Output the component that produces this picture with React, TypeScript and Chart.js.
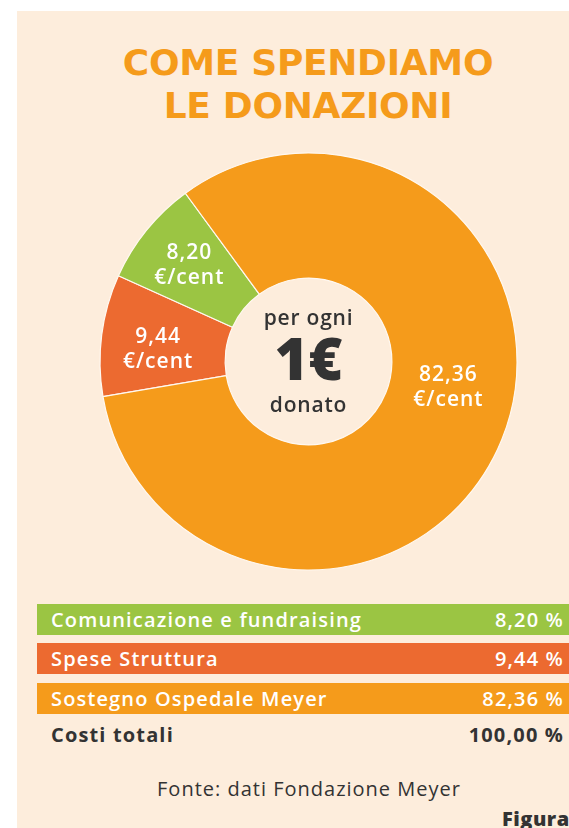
import React, { useEffect, useRef } from "react";
import { Chart, registerables } from "chart.js";
Chart.register(...registerables);

const titleLines = ["COME SPENDIAMO", "LE DONAZIONI"];
const categories = ["Comunicazione e fundraising", "Spese Struttura", "Sostegno Ospedale Meyer"];
const values = [8.2, 9.44, 82.36];
const valueLabels = ["8,20", "9,44", "82,36"];
const percentLabels = ["8,20 %", "9,44 %", "82,36 %"];
const colors = ["#9bc543", "#ec6a30", "#f59b1b"];
const totalLabel = "Costi totali";
const totalValue = "100,00 %";
const unitLabel = "€/cent";
const centerLines = ["per ogni", "1€", "donato"];
const sourceText = "Fonte: dati Fondazione Meyer";
const figureText = "Figura";

// clockwise drawing order of the slices (red, green, orange)
const drawOrder = [1, 0, 2];
// label placement within each slice (fraction of angle span, fraction of ring depth)
const labelAngleFrac = [0.5, 0.43, 0.46];
const labelRadiusFrac = [0.56, 0.54, 0.47];

const BG = "#fdeddc";
const DARK = "#333333";
const FONT = "'Open Sans', 'Noto Sans', sans-serif";

export default function App() {
  const ref = useRef<HTMLCanvasElement | null>(null);
  useEffect(() => {
    if (!ref.current) return;
    const labelPlugin = {
      id: "labels",
      afterDatasetsDraw(chart: any) {
        const ctx = chart.ctx;
        const meta = chart.getDatasetMeta(0);
        ctx.save();
        ctx.textAlign = "center";
        ctx.textBaseline = "middle";
        let cx = 0, cy = 0;
        meta.data.forEach((arc: any, i: number) => {
          const p = arc.getProps(["x", "y", "startAngle", "endAngle", "innerRadius", "outerRadius"], true);
          cx = p.x; cy = p.y;
          const cat = drawOrder[i];
          const a = p.startAngle + (p.endAngle - p.startAngle) * labelAngleFrac[cat];
          const r = p.innerRadius + (p.outerRadius - p.innerRadius) * labelRadiusFrac[cat];
          const x = p.x + Math.cos(a) * r;
          const y = p.y + Math.sin(a) * r;
          ctx.fillStyle = "#ffffff";
          ctx.font = `600 21px ${FONT}`;
          ctx.letterSpacing = "1px";
          ctx.fillText(valueLabels[cat], x, y - 12);
          ctx.fillText(unitLabel, x, y + 13);
        });
        ctx.fillStyle = DARK;
        ctx.font = `600 21px ${FONT}`;
        ctx.letterSpacing = "0.8px";
        ctx.fillText(centerLines[0], cx, cy - 42);
        ctx.font = `800 58px ${FONT}`;
        ctx.letterSpacing = "0px";
        ctx.fillText(centerLines[1], cx, cy + 2);
        ctx.font = `600 21px ${FONT}`;
        ctx.letterSpacing = "0.8px";
        ctx.fillText(centerLines[2], cx, cy + 45);
        ctx.restore();
      },
    };
    const chart = new Chart(ref.current, {
      type: "doughnut",
      data: {
        labels: drawOrder.map((i) => categories[i]),
        datasets: [
          {
            data: drawOrder.map((i) => values[i]),
            backgroundColor: drawOrder.map((i) => colors[i]),
            borderColor: "#fff8f0",
            borderWidth: 1.2,
          },
        ],
      },
      options: {
        animation: false,
        responsive: false,
        maintainAspectRatio: false,
        rotation: -99.7,
        radius: 208.5,
        cutout: "40%",
        layout: { padding: 0 },
        plugins: { legend: { display: false }, tooltip: { enabled: false } },
      },
      plugins: [labelPlugin],
    });
    return () => chart.destroy();
  }, []);

  const rowTops = [604, 643, 683];
  return (
    <div style={{ position: "absolute", left: 0, top: 0, width: 569, height: 828, background: "#ffffff", overflow: "hidden" }}>
      <div style={{ position: "absolute", left: 17, top: 11, width: 600, height: 830, background: BG }} />
      {titleLines.map((t, i) => (
        <div
          key={t}
          style={{
            position: "absolute",
            left: 8,
            width: 600,
            top: 44 + i * 43,
            textAlign: "center",
            font: "bold 36px 'DejaVu Sans', sans-serif",
            letterSpacing: "-0.3px",
            lineHeight: "38px",
            color: colors[2],
            whiteSpace: "nowrap",
          }}
        >
          {t}
        </div>
      ))}
      <canvas
        ref={ref}
        width={441}
        height={441}
        style={{ position: "absolute", left: 88, top: 141, width: 441, height: 441 }}
      />
      {categories.map((c, i) => (
        <div
          key={c}
          style={{
            position: "absolute",
            left: 37,
            top: rowTops[i],
            width: 532,
            height: 31,
            background: colors[i],
            color: "#ffffff",
            font: `600 20px ${FONT}`,
            letterSpacing: "1.15px",
            lineHeight: "31px",
          }}
        >
          <span style={{ position: "absolute", left: 14 }}>{c}</span>
          <span style={{ position: "absolute", right: 5 }}>{percentLabels[i]}</span>
        </div>
      ))}
      <div
        style={{
          position: "absolute",
          left: 37,
          top: 719,
          width: 532,
          height: 31,
          color: DARK,
          font: `bold 20px ${FONT}`,
          letterSpacing: "1.15px",
          lineHeight: "31px",
        }}
      >
        <span style={{ position: "absolute", left: 14 }}>{totalLabel}</span>
        <span style={{ position: "absolute", right: 5 }}>{totalValue}</span>
      </div>
      <div
        style={{
          position: "absolute",
          left: 9,
          width: 600,
          top: 776,
          textAlign: "center",
          color: DARK,
          font: `400 20px ${FONT}`,
          letterSpacing: "1px",
          lineHeight: "26px",
        }}
      >
        {sourceText}
      </div>
      <div
        style={{
          position: "absolute",
          left: 502,
          top: 806,
          color: DARK,
          font: `800 20px ${FONT}`,
          letterSpacing: "0.5px",
          lineHeight: "26px",
          whiteSpace: "nowrap",
        }}
      >
        {figureText}
      </div>
    </div>
  );
}
